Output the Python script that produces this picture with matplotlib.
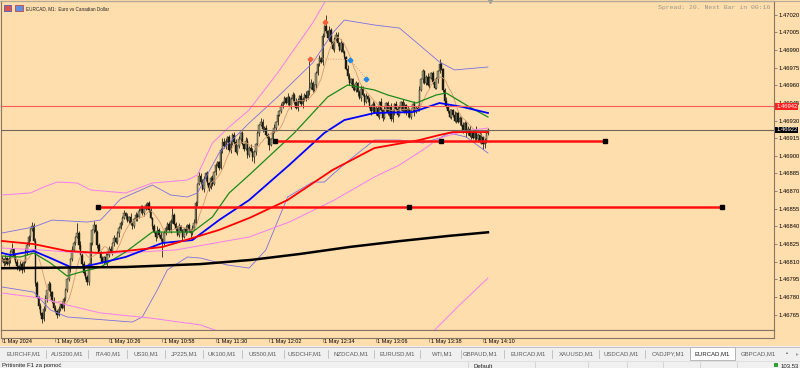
import numpy as np
import pandas as pd
import matplotlib
matplotlib.use("Agg")
import matplotlib.pyplot as plt
from matplotlib.patches import Rectangle

plt.rcParams['font.family'] = ['Liberation Sans', 'DejaVu Sans']

BG = "#FFDEAD"
BASE = 1.46700
PT = 0.00001

# closes in points above 1.46700, one per M1 bar starting 09:22
closes = [112, 109, 113, 108, 112, 118, 121, 114, 110, 106,
          104, 108, 103, 110, 118, 124, 131, 138, 140, 128,
          92, 80, 72, 66, 61, 70, 78, 86, 91, 84,
          77, 71, 68, 65, 70, 74, 71, 78, 86, 95,
          104, 112, 120, 126, 131, 134, 124, 116, 108, 100,
          97, 93, 108, 126, 137, 141, 135, 124, 118, 113,
          110, 114, 109, 116, 121, 118, 126, 130, 127, 134,
          139, 143, 147, 151, 149, 145, 148, 142, 140, 146,
          150, 148, 153, 156, 151, 155, 158, 160, 154, 147,
          140, 135, 131, 137, 133, 129, 126, 134, 139, 142,
          137, 145, 150, 142, 138, 133, 140, 136, 131, 138,
          135, 141, 137, 134, 139, 143, 160, 176, 183, 178,
          172, 180, 185, 177, 173, 181, 176, 186, 192, 195,
          190, 205, 212, 208, 213, 216, 205, 210, 218, 212,
          203, 208, 214, 219, 210, 206, 213, 201, 207, 204,
          199, 203, 210, 219, 226, 229, 223, 224, 218, 215,
          209, 214, 220, 224, 229, 235, 238, 242, 246, 249,
          245, 250, 243, 248, 252, 246, 241, 247, 251, 244,
          248, 252, 249, 255, 258, 262, 256, 260, 270, 278,
          283, 280, 302, 310, 306, 300, 307, 297, 291, 299,
          303, 296, 290, 296, 288, 284, 274, 268, 262, 265,
          258, 256, 262, 254, 249, 257, 252, 246, 251, 248,
          242, 238, 244, 237, 241, 234, 246, 239, 232, 240,
          245, 236, 242, 231, 238, 244, 240, 235, 241, 246,
          238, 243, 236, 240, 233, 239, 244, 237, 241, 240,
          256, 265, 272, 262, 267, 260, 266, 270, 263, 258,
          265, 272, 278, 274, 256, 247, 242, 238, 233, 239,
          235, 230, 236, 229, 232, 226, 221, 228, 219, 223,
          217, 220, 215, 222, 214, 218, 212, 216, 210, 213,
          219, 222]
first_open = 113

# wick sizes in points above / below the body
up_wicks = ("2131224132 1321432123 2213124132 1321213221 2132132413 3212131221 "
            "2131221312 1223121321 2132212123 1213221312 2131223121 3121232132 "
            "2312123121 1213212312 2131213213 3212132121 2123121312 1312213212 "
            "2131232121 3121213212 2213121321 1321232121 2132121312 1213213221 "
            "2312121312 3121232121 2132123121 1312213212 2121312312 1213212121")
dn_wicks = ("1321231213 2132121321 3121312213 2213121312 1312213121 2131231212 "
            "1213212312 3121312121 1312121321 2131213212 1321212131 2123121312 "
            "1312312121 2131212312 1213121321 3121213212 2131231212 1213121312 "
            "3121312121 2131212213 1312121321 2123121312 1321213121 3121231212 "
            "1213121312 2131212121 1321231212 2121312131 1312121213 2131212121")
spike_highs = {6: 126, 18: 144, 45: 143, 55: 145, 102: 156, 132: 215,
               184: 281, 194: 320, 262: 282}
spike_lows = {24: 58, 33: 62, 51: 90, 96: 114, 151: 194, 160: 205, 288: 206}

# indicator lines: (bar index, points)
ma200_i = [0, 74, 119, 149, 178, 208, 238, 268, 291]
ma200_p = [104.5, 105.5, 108, 111.5, 116.5, 122.5, 127.5, 132, 135]
ma100_i = [0, 19, 39, 59, 74, 96, 114, 130, 148, 171, 198, 223, 250, 262, 270, 291]
ma100_p = [127.6, 125, 119.1, 117.4, 119.1, 122.5, 130.1, 137, 147.1, 162.4, 188,
           206.6, 213.4, 217.7, 220.2, 220.2]
ma50_i = [0, 5, 19, 29, 41, 48, 59, 74, 96, 114, 130, 148, 172, 193, 205, 223, 246,
          262, 276, 291]
ma50_p = [117.4, 115.7, 119.1, 113.1, 105.5, 105.5, 108.9, 114, 125.9, 128.4, 145.4,
          162.4, 192.2, 219.4, 230.4, 236.4, 237.2, 244.9, 241.5, 236.4]
ma25_i = [0, 11, 19, 29, 39, 45, 59, 74, 90, 114, 126, 136, 148, 175, 195, 207, 223,
          231, 248, 260, 266, 280, 291]
ma25_p = [114.8, 114, 117.4, 108.9, 97.8, 100.4, 105.5, 118.2, 135.2, 135.2, 148,
          168.4, 183.7, 219.4, 250, 260.2, 256, 251.7, 244.9, 251.7, 253.4, 241.5, 233]
bb_up_i = [0, 19, 30, 51, 59, 71, 90, 101, 111, 117, 130, 148, 165, 186, 198, 205,
           223, 238, 250, 262, 271, 291]
bb_up_p = [134.4, 139.5, 145.4, 143.7, 145.4, 163.3, 175.2, 166.7, 165, 168.4, 202.4,
           227.9, 250, 278.9, 304.4, 315.4, 311.2, 308.6, 294.2, 279.7, 273, 275.5]
bb_lo_i = [0, 19, 29, 39, 78, 84, 93, 99, 111, 119, 135, 148, 158, 171, 186, 193, 199,
           208, 223, 238, 252, 262, 268, 278, 291]
bb_lo_p = [88.5, 84.2, 69, 63, 58.7, 63, 86, 103, 114, 113.1, 107.2, 104.6, 120, 165,
           177.7, 177.7, 185.4, 196.4, 213.4, 213.4, 210.9, 215.1, 219.4, 216, 202.4]
env_up_i = [0, 17, 25, 33, 45, 53, 74, 90, 111, 117, 126, 136, 148, 165, 186, 193, 202]
env_up_p = [166.7, 168.4, 173.5, 177.7, 176.9, 171, 168.4, 176.9, 179.4, 183.7, 210.9,
            224.5, 239, 270.4, 312.9, 329.9, 349.4]
env_mid_i = [0, 23, 48, 71, 104, 148, 172, 199, 223, 238, 252, 262, 277, 291]
env_mid_p = [121.6, 120, 117.4, 117.4, 120, 131, 143.7, 162.4, 182, 192.2, 205, 215.1,
             221.1, 223.6]
env_lo_i = [0, 23, 39, 59, 89, 119, 134]
env_lo_p = [83.4, 79.1, 73.2, 66.4, 62.1, 56.2, 48.5]
env_lo2_i = [257, 274, 291]
env_lo2_p = [49, 73.2, 96.1]

zz_red_i = [184.4, 193.4]
zz_red_p = [282.6, 313.7]
zz_blue_i = [208.4, 218]
zz_blue_p = [281.8, 265.7]

trend_lines = [((163.5, 361.0), 213.0, [163.5, 263.0, 361.0]),
               ((57.5, 431.0), 156.5, [57.5, 244.0, 431.0])]
red_level = 242
bid_level = 222

time_idx = [0, 32, 64, 96, 128, 160, 192, 224, 256, 288]
time_labels = ["1 May 2024", "1 May 09:54", "1 May 10:26", "1 May 10:58", "1 May 11:30",
               "1 May 12:02", "1 May 12:34", "1 May 13:06", "1 May 13:38", "1 May 14:10"]

tabs = ["EURCHF,M1", "AUS200,M1", "ITA40,M1", "US30,M1", "JP225,M1", "UK100,M1",
        "US500,M1", "USDCHF,M1", "NZDCAD,M1", "EURUSD,M1", "WTI,M1", "GBPAUD,M1",
        "EURCAD,M1", "XAUUSD,M1", "USDCAD,M1", "CADJPY,M1", "EURCAD,M1", "GBPCAD,M1"]
tab_x = [24, 67, 108, 146, 184, 222, 263, 305, 351, 397, 442, 480, 528, 576, 621, 668,
         712, 758]
active_tab = 16


def pr(v):
    return BASE + np.asarray(v, dtype=float) * PT


def fx(x):
    return x / 800


def fy(y):
    return 1 - y / 368


n = len(closes)
c = np.array(closes, dtype=float)
o = np.concatenate([[first_open], c[:-1]])
up = np.array([int(ch) for ch in up_wicks.replace(" ", "")][:n], dtype=float)
dn = np.array([int(ch) for ch in dn_wicks.replace(" ", "")][:n], dtype=float)
h = np.maximum(o, c) + up
l = np.minimum(o, c) - dn
for k, v in spike_highs.items():
    h[k] = v
for k, v in spike_lows.items():
    l[k] = v
idx = np.arange(n)

fig = plt.figure(figsize=(8, 3.68), dpi=100, facecolor=BG)
ax = fig.add_axes([fx(1), fy(330), 773 / 800, 329 / 368], facecolor=BG)
ax.set_xlim(-0.6, 462.3)
ax.set_ylim(pr(51.95), pr(331.6))
frame = "#857565"
for s in ax.spines.values():
    s.set_color(frame)
    s.set_linewidth(0.8)

# candles
ax.vlines(idx, pr(l), pr(h), color="#24241a", lw=0.6, zorder=2)
bull = c >= o
body_lo = np.minimum(o, c)
body_h = np.maximum(np.abs(c - o), 0.5)
ax.bar(idx[bull], body_h[bull] * PT, bottom=pr(body_lo[bull]), width=0.85,
       color="#9c9c7c", edgecolor="#24241a", linewidth=0.3, zorder=2)
ax.bar(idx[~bull], body_h[~bull] * PT, bottom=pr(body_lo[~bull]), width=0.85,
       color="#1a1a10", edgecolor="#1a1a10", linewidth=0.3, zorder=2)

# indicators
fast = pd.Series(c).rolling(10, min_periods=1).mean()
ax.plot(idx, pr(fast), color="#d49a72", lw=0.6, zorder=3)
ax.plot(bb_up_i, pr(bb_up_p), color="#7b6fe0", lw=0.6, zorder=3)
ax.plot(bb_lo_i, pr(bb_lo_p), color="#7b6fe0", lw=0.6, zorder=3)
for xi, yp in [(env_up_i, env_up_p), (env_mid_i, env_mid_p), (env_lo_i, env_lo_p),
               (env_lo2_i, env_lo2_p)]:
    ax.plot(xi, pr(yp), color="#f47ef0", lw=0.7, zorder=3)
ax.plot(ma25_i, pr(ma25_p), color="#1a8a1a", lw=0.9, zorder=3)
ax.plot(ma50_i, pr(ma50_p), color="#0000ff", lw=1.3, zorder=3)
ax.plot(ma100_i, pr(ma100_p), color="#ff0000", lw=1.3, zorder=3)
ax.plot(ma200_i, pr(ma200_p), color="#000000", lw=1.8, zorder=3)

# levels
ax.axhline(pr(red_level), color="#ff5a5a", lw=0.8, zorder=3)
ax.axhline(pr(bid_level), color="#6f675c", lw=0.8, zorder=3)
for (x0, x1), lvl, marks in trend_lines:
    ax.plot([x0, x1], pr([lvl, lvl]), color="#ff1010", lw=1.8, zorder=4)
    ax.plot(marks, pr([lvl] * len(marks)), ls="none", marker="s", ms=3,
            color="#000000", zorder=5)

# zigzag points
ax.plot([zz_red_i[0], zz_blue_i[0], zz_blue_i[1]],
        pr([zz_red_p[0], zz_blue_p[0], zz_blue_p[1]]),
        color="#d49a72", lw=0.7, ls=":", zorder=4)
ax.plot(zz_red_i, pr(zz_red_p), ls="none", marker="P", ms=3, color="#f0603a", zorder=5)
ax.plot(zz_blue_i, pr(zz_blue_p), ls="none", marker="P", ms=3, color="#1e88e8", zorder=5)

# price axis
ticks = np.arange(65, 321, 15)
ax.set_yticks(pr(ticks))
ax.set_yticklabels([f"{v:.5f}" for v in pr(ticks)])
ax.yaxis.tick_right()
ax.tick_params(axis="y", direction="out", length=2.5, width=0.6, color=frame,
               labelsize=4.2, pad=1)
ax.set_xticks([])

for lvl, col in [(red_level, "#ff2020"), (bid_level, "#000000")]:
    ax.annotate(f"{pr(lvl):.5f}", xy=(1, pr(lvl)), xycoords=("axes fraction", "data"),
                xytext=(1.6, 0), textcoords="offset points", ha="left", va="center",
                fontsize=4.2, color="white", annotation_clip=False, zorder=6,
                bbox=dict(boxstyle="square,pad=0.15", fc=col, ec="none"))

ax.plot([292], [pr(331.6)], marker="v", ms=3, color="#9a9a9a", clip_on=False, zorder=6)

# time strip
ax2 = fig.add_axes([fx(1), fy(337.5), 773 / 800, 7.5 / 368], facecolor=BG)
ax2.set_xlim(-0.6, 462.3)
ax2.set_yticks([])
ax2.set_xticks(time_idx)
ax2.set_xticklabels([""] * len(time_idx))
ax2.tick_params(axis="x", direction="out", length=3, width=0.5, color=frame)
for s in ax2.spines.values():
    s.set_color(frame)
    s.set_linewidth(0.8)
for ti, lab in zip(time_idx, time_labels):
    ax2.annotate(lab, xy=(ti, 0), xycoords=("data", "axes fraction"), xytext=(1, -1.2),
                 textcoords="offset points", ha="left", va="top", fontsize=4,
                 color="#000000", annotation_clip=False)

# header texts
fig.add_artist(Rectangle((fx(4), fy(11)), 7 / 800, 6 / 368, transform=fig.transFigure,
                         fc="#e05050", ec="#3050c0", lw=0.5))
fig.add_artist(Rectangle((fx(15), fy(11)), 8 / 800, 6 / 368, transform=fig.transFigure,
                         fc="#6090e0", ec="#c03030", lw=0.5))
fig.text(fx(26), fy(8.3), "EURCAD, M1:  Euro vs Canadian Dollar", fontsize=3.3,
         color="#202020", va="center", ha="left")
fig.text(fx(770), fy(7.5), "Spread: 20. Next Bar in 00:16", fontsize=4.6,
         family="Liberation Mono", color="#9c9488", va="center", ha="right")
fig.add_artist(plt.Line2D([0, 1], [fy(0.5), fy(0.5)], transform=fig.transFigure,
                          color="#b0a898", lw=0.8))

# tab bar and status bar
fig.add_artist(Rectangle((0, fy(361)), 1, 15 / 368, transform=fig.transFigure,
                         fc="#f0f0f0", ec="none"))
fig.add_artist(plt.Line2D([0, 1], [fy(346.5), fy(346.5)], transform=fig.transFigure,
                          color="#b8b8b8", lw=0.6))
for k, (name, x) in enumerate(zip(tabs, tab_x)):
    if k == active_tab:
        fig.add_artist(Rectangle((fx(690), fy(360)), 45 / 800, 13 / 368,
                                 transform=fig.transFigure, fc="white",
                                 ec="#a0a0a0", lw=0.5))
    fig.text(fx(x), fy(354), name, fontsize=4.3, ha="center", va="center",
             color="#202020" if k == active_tab else "#5a5a5a")
    if k > 0:
        mx = (tab_x[k - 1] + x) / 2
        fig.add_artist(plt.Line2D([fx(mx), fx(mx)], [fy(350), fy(358)],
                                  transform=fig.transFigure, color="#b0b0b0", lw=0.5))
fig.text(fx(787), fy(354), "\u2022", fontsize=4, ha="center", va="center", color="#303030")
fig.text(fx(797), fy(354), "\u25b8", fontsize=4, ha="center", va="center", color="#a0a0a0")

fig.add_artist(Rectangle((0, 0), 1, 7 / 368, transform=fig.transFigure,
                         fc="#f0f0f0", ec="none"))
fig.add_artist(plt.Line2D([0, 1], [fy(361), fy(361)], transform=fig.transFigure,
                          color="#d8d8d8", lw=0.5))
fig.text(fx(2), fy(366), "Pritisnite F1 za pomo\u0107", fontsize=4.3, ha="left",
         va="center", color="#202020")
fig.text(fx(474), fy(366), "Default", fontsize=4.3, ha="left", va="center",
         color="#202020")
for sx in [468, 535, 588, 627, 663, 700, 737]:
    fig.add_artist(plt.Line2D([fx(sx), fx(sx)], [fy(362), fy(368)],
                              transform=fig.transFigure, color="#c8c8c8", lw=0.5))
fig.add_artist(Rectangle((fx(774), fy(367)), 4 / 800, 4 / 368, transform=fig.transFigure,
                         fc="#30a030", ec="none"))
fig.text(fx(781), fy(366), "103.53", fontsize=4.3, ha="left", va="center",
         color="#202020")

fig.savefig("out.png", dpi=100, facecolor=BG)
